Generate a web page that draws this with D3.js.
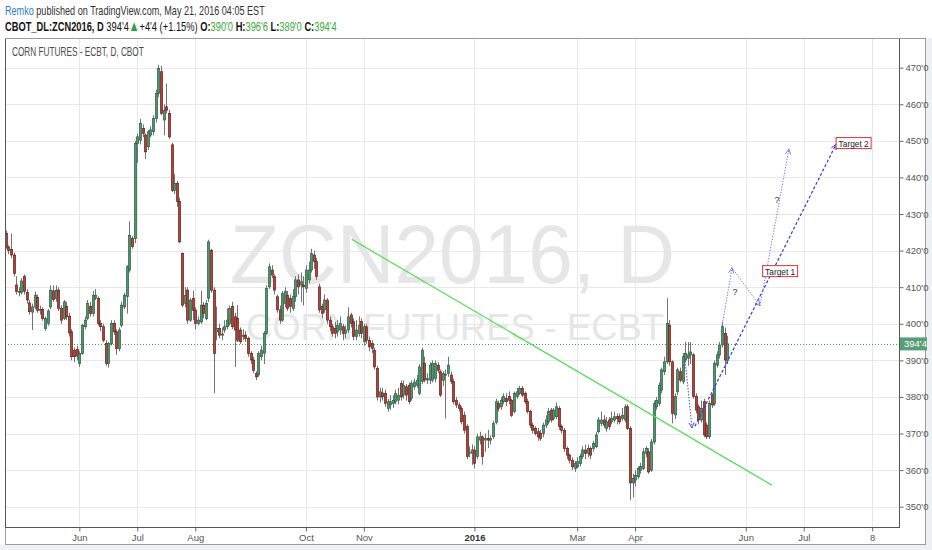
<!DOCTYPE html>
<html><head><meta charset="utf-8">
<script src="https://cdn.jsdelivr.net/npm/d3@7"></script>
<style>
body{margin:0;background:#fff;}
svg{display:block;}
</style>
</head><body>
<svg id="c" width="932" height="550"></svg>
<script>
// ---------- DATA (daily bars, 21 Apr 2015 .. 20 May 2016; index = trading day) ----------
const open = [
424.7,421.0,420.3,418.8,410.6,408.5,408.6,412.9,408.6,405.7,
403.2,404.6,407.2,403.7,403.9,398.7,400.1,404.6,409.0,406.9,
409.2,404.2,401.4,404.8,402.1,397.8,392.8,393.0,389.1,391.9,
399.2,401.4,404.8,402.8,407.0,406.9,400.1,399.2,394.6,389.1,
394.6,400.1,397.8,393.2,399.6,404.6,407.5,414.7,423.3,423.3,
449.3,450.2,453.4,451.6,448.4,451.6,452.5,456.1,463.0,468.9,
455.7,459.3,457.5,448.9,436.5,438.4,433.4,419.2,405.6,409.2,
401.0,406.9,403.7,400.1,400.5,405.1,401.4,407.0,420.1,409.2,
397.8,398.7,396.9,398.3,399.2,400.1,404.7,401.9,401.5,398.3,
396.5,396.9,396.0,391.9,390.1,386.4,386.0,391.0,391.9,397.4,
410.1,414.7,412.9,407.4,403.8,401.0,405.6,407.8,406.9,404.2,
407.4,412.0,410.6,410.6,409.7,412.0,414.7,418.8,417.0,410.1,
404.7,403.8,406.5,401.0,399.2,398.7,397.8,398.3,399.2,397.4,
398.3,402.4,400.6,396.5,397.4,400.6,395.1,399.2,395.5,394.6,
392.8,387.8,380.0,381.1,381.0,376.9,377.8,378.2,378.7,379.1,
383.7,380.5,382.8,383.2,379.6,382.8,383.2,381.0,384.2,389.2,
384.6,384.6,384.6,385.0,388.7,386.9,384.5,386.0,386.4,386.0,
384.2,379.1,377.8,376.9,375.0,371.9,364.6,364.6,365.5,363.7,
368.2,369.1,368.2,368.7,368.2,369.1,373.0,378.2,377.3,378.7,
379.6,380.1,379.1,376.0,380.1,381.0,382.3,381.0,378.7,376.0,
372.3,371.4,370.5,370.0,370.0,372.3,373.2,376.4,374.1,374.6,
376.9,371.9,370.9,365.9,364.1,362.7,360.5,360.9,361.8,363.7,
365.5,364.6,365.9,365.9,366.4,370.5,372.8,373.7,371.4,373.7,
373.2,373.7,374.6,374.6,374.1,373.7,377.3,371.4,356.5,357.3,
358.2,360.0,360.5,364.6,365.0,360.0,367.7,377.3,378.2,381.9,
386.9,389.6,399.6,389.6,375.1,381.4,386.9,384.2,390.1,390.6,
391.5,391.5,380.1,377.3,373.7,378.7,372.3,369.1,380.5,378.2,
388.7,391.5,394.2,397.4,390.0
];
const high = [
425.5,421.5,424.7,419.5,413.0,410.0,412.5,413.5,409.5,406.5,
405.5,408.8,408.0,405.0,404.5,402.0,404.0,410.5,410.5,410.5,
410.0,405.0,406.5,406.0,403.0,398.5,393.5,394.0,392.5,400.0,
402.0,406.5,406.0,409.0,409.5,407.5,401.0,400.0,395.5,395.0,
401.0,401.0,398.5,399.0,406.0,408.5,416.0,428.0,424.0,450.0,
452.0,456.0,454.5,452.0,453.0,454.0,457.0,464.0,470.8,470.5,
460.0,465.7,458.5,449.5,441.0,439.0,434.5,419.5,410.0,410.0,
407.0,409.0,404.5,402.0,409.0,406.0,406.5,423.0,420.5,410.0,
404.7,400.0,399.0,401.0,404.2,405.0,406.0,403.0,405.1,399.0,
398.5,398.0,396.5,392.5,391.0,387.0,392.5,394.0,398.0,410.5,
416.5,416.0,413.5,408.0,405.0,409.0,410.0,409.0,408.0,409.5,
413.0,413.5,414.0,413.0,416.0,417.0,420.5,420.0,418.0,411.0,
405.5,408.0,407.0,402.0,400.0,400.5,401.0,402.0,400.0,399.5,
404.5,403.0,401.5,401.0,402.0,401.5,400.0,400.0,396.5,395.5,
393.5,388.5,382.5,382.5,382.0,379.5,380.5,380.5,382.0,382.5,
384.5,384.5,383.5,384.0,384.5,385.0,386.0,389.0,393.5,391.0,
386.5,389.5,390.0,390.0,389.5,387.5,387.0,387.5,391.0,387.0,
385.0,380.0,378.5,377.5,376.0,372.5,366.5,367.0,366.5,370.0,
370.5,369.5,370.0,371.0,369.5,373.5,379.5,379.0,380.0,381.0,
381.0,381.5,379.5,381.5,382.5,383.0,383.0,381.5,379.5,376.5,
373.0,372.0,371.5,371.0,373.0,375.0,377.0,377.0,377.0,378.5,
377.5,372.5,371.5,366.5,364.5,363.5,362.5,363.5,364.5,366.5,
367.0,367.0,366.5,368.0,370.5,374.5,376.0,375.0,374.5,374.5,
376.0,376.0,375.5,375.5,377.0,378.0,378.0,372.0,359.0,360.0,
361.0,362.0,366.0,366.5,366.0,368.5,379.0,380.0,384.0,388.0,
391.0,407.0,401.0,390.0,381.0,388.0,388.0,392.0,395.1,395.0,
395.0,392.0,381.0,378.0,379.0,379.5,373.0,379.0,381.0,390.0,
392.5,395.0,400.6,399.0,396.75
];
const low = [
420.5,419.0,418.0,413.0,408.0,407.5,408.0,408.0,405.5,402.5,
398.3,404.0,403.0,402.5,400.8,398.0,399.5,404.0,406.0,406.0,
403.5,400.0,401.0,401.0,396.5,390.0,389.5,390.0,388.2,391.5,
398.5,401.0,402.0,402.0,406.5,399.5,398.0,395.0,388.5,388.0,
394.0,397.0,391.5,392.5,399.0,404.0,402.8,414.0,420.5,422.0,
444.0,449.0,451.0,445.0,447.5,451.0,451.5,455.0,462.0,457.0,
451.5,457.5,450.5,436.0,435.5,432.0,422.0,404.5,404.5,400.0,
400.5,401.0,398.5,399.5,400.0,401.5,401.0,406.0,408.5,381.0,
395.5,396.0,395.5,397.5,398.5,399.5,398.5,388.2,395.0,394.5,
395.5,395.0,391.0,389.0,386.5,384.6,385.5,390.0,389.0,397.0,
409.5,412.5,408.0,403.0,400.0,400.5,404.5,403.5,403.0,403.5,
406.0,408.0,406.0,405.0,408.5,411.0,414.0,415.0,412.0,403.0,
401.5,403.0,400.0,398.0,396.5,396.0,396.5,397.0,395.5,396.0,
397.5,399.0,395.5,395.5,396.5,396.0,394.0,394.5,392.5,392.0,
387.5,379.0,378.5,379.0,377.3,376.0,376.5,377.0,378.0,378.0,
379.0,379.5,379.0,378.0,379.0,382.0,382.5,380.5,383.5,384.0,
383.5,383.5,384.0,384.0,386.5,380.0,383.0,374.1,385.5,383.5,
378.0,377.0,376.0,372.5,370.0,363.0,363.5,361.4,360.5,363.0,
367.0,361.5,365.0,366.0,367.0,368.5,372.5,376.0,376.5,378.0,
377.5,378.0,374.5,375.5,379.5,380.5,380.0,378.0,375.5,371.5,
370.0,369.5,368.0,368.0,369.0,371.5,372.5,373.0,373.5,374.0,
371.0,370.0,365.0,363.0,361.8,360.0,359.5,360.5,361.0,363.0,
363.0,363.5,363.0,365.0,366.0,370.0,372.0,371.5,370.5,371.0,
372.5,373.0,372.5,372.5,373.5,373.0,371.0,351.8,352.5,355.5,
357.5,359.0,360.0,363.5,359.0,359.5,367.0,376.5,377.5,381.0,
386.0,389.0,388.5,372.8,374.0,380.5,384.0,383.5,389.5,388.5,
389.0,379.5,375.5,372.5,373.0,369.0,368.5,368.5,377.0,377.5,
388.0,390.5,393.5,386.0,389.0
];
const close = [
421.1,420.0,418.8,413.8,408.8,408.8,411.7,408.8,406.5,403.3,
404.6,407.8,403.7,403.9,401.4,401.4,403.5,409.2,406.6,409.2,
404.2,401.0,406.0,401.9,397.5,391.0,391.0,391.2,391.9,399.6,
401.0,405.6,402.8,407.8,407.8,400.1,399.2,395.5,389.1,394.6,
400.1,397.8,393.2,398.3,405.1,407.8,415.6,424.2,421.1,449.3,
451.1,454.8,452.0,447.0,452.5,453.0,456.1,463.0,469.8,457.5,
458.4,458.4,451.1,436.5,438.4,433.4,422.4,405.1,407.8,401.0,
406.5,403.7,400.1,401.0,405.1,402.8,405.6,422.4,409.2,391.9,
398.7,396.9,397.2,399.2,401.0,404.2,399.2,398.3,395.5,395.1,
396.9,396.0,391.9,390.1,387.3,385.5,391.9,392.8,397.4,409.7,
415.6,413.3,409.2,403.8,401.0,408.3,408.8,404.2,404.7,407.4,
412.0,410.1,411.5,410.1,414.7,414.7,419.2,417.0,412.9,403.8,
402.8,406.5,401.0,399.2,397.4,397.4,399.6,400.1,397.4,398.3,
401.9,400.1,396.5,398.3,399.6,397.4,399.2,395.5,393.7,393.3,
388.2,380.0,381.4,380.0,378.2,378.7,378.7,379.1,381.0,380.5,
380.0,383.2,380.5,378.7,383.7,384.1,384.6,388.2,392.8,384.6,
385.0,388.7,389.2,389.2,387.3,380.5,386.4,386.2,388.7,384.2,
378.7,377.8,376.9,373.2,370.9,363.7,365.0,365.5,361.8,369.1,
369.1,363.7,368.7,368.2,368.7,372.8,378.7,376.9,379.1,380.1,
378.7,379.1,375.0,381.0,381.4,382.3,380.5,378.7,376.0,372.3,
370.9,370.0,369.1,368.7,372.3,373.7,376.0,373.7,376.4,377.3,
371.9,370.9,365.9,364.1,362.7,360.9,361.8,362.3,363.7,365.5,
364.6,365.9,364.1,367.3,369.6,373.7,373.7,372.3,373.2,371.9,
374.1,374.6,374.1,373.2,375.0,377.3,371.4,356.5,357.7,358.6,
360.5,361.0,365.0,365.9,359.5,367.7,378.2,379.1,383.2,387.4,
389.6,400.1,389.6,375.5,380.1,387.4,384.6,391.0,391.9,391.5,
392.3,380.1,376.4,373.7,376.9,369.6,369.1,378.2,377.8,389.2,
391.5,394.2,399.2,390.1,394.5
];

// axis ticks
const priceTicks = [350,360,370,380,390,400,410,420,430,440,450,460,470];
const timeTickIdx = [28,50,72,114,136,178,217,239,281,303,329];
const timeTickLabels = ["Jun","Jul","Aug","Oct","Nov","2016","Mar","Apr","Jun","Jul","8"];
const lastPrice = 394.5;

// drawings (bar index, price)
const trendLine = [[131.4,423.1],[290.9,355.9]];
const dottedDown = [[257.9,390.6],[260.6,371.5]];
const dashedUp = [[261.7,372.0],[315.3,449.1]];
const dottedPath = [[271.6,397.8],[275.8,415.3],[286.4,404.9],[297.4,447.8]];
const questionMarks = [[276.9,408.7],[292.9,433.8]];
const targetLabels = ["Target 1","Target 2"];
const targetPos = [[287.4,414.4],[315.3,449.4]];

// ---------- DRAW ----------
const FONT = '"Liberation Sans",Arial,sans-serif';
const svg = d3.select("#c").style("font-family", FONT);
const P = {l:5, r:899, t:39, b:527};

const x = d3.scaleLinear().domain([0,329]).range([5.6,872.2]);
const y = d3.scaleLinear().domain([350,470]).range([506.7,67.7]);
const fmt = v => Math.floor(v) + "'" + Math.round((v-Math.floor(v))*8);

svg.append("rect").attr("width",932).attr("height",550).attr("fill","#fff");
svg.append("rect").attr("x",0).attr("y",545).attr("width",932).attr("height",5).attr("fill","#eef1f3");
svg.append("rect").attr("x",926).attr("y",38).attr("width",6).attr("height",512).attr("fill","#eef1f3");

// text fitted to a width by horizontal scaling (single text element per line)
function fitLine(x0, yb, width, size, parts){
  const g = svg.append("g");
  const t = g.append("text").attr("x",0).attr("y",0).attr("font-size",size);
  parts.forEach(p=>{
    const s = t.append("tspan").text(p.t)
      .attr("fill",p.fill||"#222").attr("font-weight",p.bold?"bold":"normal");
    if(p.size) s.attr("font-size",p.size);
  });
  const w = t.node().getComputedTextLength();
  g.attr("transform",`translate(${x0},${yb}) scale(${width/w},1)`);
  return g;
}
const GREENV = "#38a838";
fitLine(5,15,260,13,[
  {t:"Remko",fill:"#2e7bc4"},
  {t:" published on TradingView.com, May 21, 2016 04:05 EST",fill:"#333"}
]);
fitLine(5,31,332,13,[
  {t:"CBOT_DL:ZCN2016, D",bold:true,fill:"#111"},
  {t:"  394'4",fill:"#111"},
  {t:"\u25B2",fill:"#2ea043",size:15},
  {t:"+4'4 (+1.15%) ",fill:"#111"},
  {t:"O:",bold:true,fill:"#111"},{t:"390'0 ",fill:GREENV},
  {t:"H:",bold:true,fill:"#111"},{t:"396'6 ",fill:GREENV},
  {t:"L:",bold:true,fill:"#111"},{t:"389'0 ",fill:GREENV},
  {t:"C:",bold:true,fill:"#111"},{t:"394'4",fill:GREENV}
]);

// clip
svg.append("clipPath").attr("id","clip").append("rect")
  .attr("x",P.l).attr("y",P.t).attr("width",P.r-P.l).attr("height",P.b-P.t);

// grid
const grid = svg.append("g").attr("clip-path","url(#clip)");
grid.selectAll("line.h").data(priceTicks).join("line")
  .attr("x1",P.l).attr("x2",P.r)
  .attr("y1",d=>Math.round(y(d))+0.5).attr("y2",d=>Math.round(y(d))+0.5)
  .attr("stroke","#e8e8e8");
grid.selectAll("line.v").data(timeTickIdx).join("line")
  .attr("y1",P.t).attr("y2",P.b)
  .attr("x1",d=>Math.round(x(d))+0.5).attr("x2",d=>Math.round(x(d))+0.5)
  .attr("stroke","#e8e8e8");

// watermark
svg.append("text").attr("x",230).attr("y",283).text("ZCN2016, D")
  .attr("font-size",84).attr("fill","#e6e6e6")
  .attr("textLength",445).attr("lengthAdjust","spacingAndGlyphs");
svg.append("text").attr("x",246).attr("y",340).text("CORN FUTURES - ECBT")
  .attr("font-size",36).attr("fill","#e6e6e6")
  .attr("textLength",418).attr("lengthAdjust","spacingAndGlyphs");

// chart title
fitLine(12,56,132,12,[{t:"CORN FUTURES - ECBT, D, CBOT",fill:"#4a4a4a"}]);

// last price line
svg.append("line").attr("x1",P.l).attr("x2",P.r)
  .attr("y1",Math.round(y(lastPrice))+0.5).attr("y2",Math.round(y(lastPrice))+0.5)
  .attr("stroke","#3f9a74").attr("stroke-dasharray","1,2");

// candles
const bars = d3.range(open.length).map(i=>({i,o:open[i],h:high[i],l:low[i],c:close[i]}));
const cg = svg.append("g").attr("clip-path","url(#clip)");
cg.selectAll("line.w").data(bars).join("line")
  .attr("x1",d=>Math.round(x(d.i))+0.5).attr("x2",d=>Math.round(x(d.i))+0.5)
  .attr("y1",d=>y(d.h)).attr("y2",d=>y(d.l))
  .attr("stroke","#737375").attr("stroke-width",1);
cg.selectAll("rect.b").data(bars).join("rect")
  .attr("x",d=>Math.round(x(d.i))-0.7)
  .attr("width",2.4)
  .attr("y",d=>y(Math.max(d.o,d.c)))
  .attr("height",d=>Math.max(1,Math.abs(y(d.o)-y(d.c))))
  .attr("fill",d=>d.c>=d.o?"#4c9670":"#b2433a")
  .attr("stroke",d=>d.c>=d.o?"#2a563e":"#5a1e17")
  .attr("stroke-width",0.6);

// drawings
const dg = svg.append("g").attr("clip-path","url(#clip)");
const line = d3.line().x(d=>x(d[0])).y(d=>y(d[1]));
dg.append("path").attr("d",line(trendLine)).attr("stroke","#4fe04f").attr("stroke-width",1.2).attr("fill","none");
function arrow(a,b,color){
  const x1=x(a[0]),y1=y(a[1]),x2=x(b[0]),y2=y(b[1]);
  const ang=Math.atan2(y2-y1,x2-x1), L=6, s=0.45;
  const p1=[x2-L*Math.cos(ang-s),y2-L*Math.sin(ang-s)];
  const p2=[x2-L*Math.cos(ang+s),y2-L*Math.sin(ang+s)];
  dg.append("path").attr("d",`M${p1}L${x2},${y2}L${p2}`).attr("stroke",color).attr("fill","none").attr("stroke-width",1);
}
dg.append("path").attr("d",line(dottedDown)).attr("stroke","#5050e8").attr("stroke-dasharray","1.5,1.5").attr("fill","none");
arrow(dottedDown[0],dottedDown[1],"#5050e8");
dg.append("path").attr("d",line(dashedUp)).attr("stroke","#3a3ad8").attr("stroke-width",1.2).attr("stroke-dasharray","3,2").attr("fill","none");
arrow(dashedUp[0],dashedUp[1],"#3a3ad8");
dg.append("path").attr("d",line(dottedPath)).attr("stroke","#6a6af0").attr("stroke-dasharray","1.2,1.6").attr("fill","none");
for(let k=1;k<dottedPath.length;k++) arrow(dottedPath[k-1],dottedPath[k],"#7a7af2");
questionMarks.forEach(q=>{
  dg.append("text").attr("x",x(q[0])).attr("y",y(q[1])+3).attr("text-anchor","middle")
    .attr("font-size",9).attr("fill","#333").text("?");
});
targetLabels.forEach((t,k)=>{
  const px=x(targetPos[k][0]), py=y(targetPos[k][1]);
  const g=dg.append("g");
  g.append("rect").attr("x",px).attr("y",py-5.5).attr("width",35).attr("height",11)
    .attr("fill","#fff").attr("stroke","#e03535").attr("stroke-width",1);
  g.append("text").attr("x",px+2.5).attr("y",py+3.5)
    .attr("font-size",9.5).attr("fill","#222").text(t)
    .attr("textLength",30).attr("lengthAdjust","spacingAndGlyphs");
});

// frame
svg.append("rect").attr("x",5.5).attr("y",38.5).attr("width",920).attr("height",506)
  .attr("fill","none").attr("stroke","#9a9a9a");
svg.append("line").attr("x1",P.l+0.5).attr("x2",P.l+0.5).attr("y1",P.t).attr("y2",P.b+1).attr("stroke","#555");
svg.append("line").attr("x1",P.r+0.5).attr("x2",P.r+0.5).attr("y1",P.t).attr("y2",P.b+1).attr("stroke","#555");
svg.append("line").attr("x1",P.l).attr("x2",P.r+1).attr("y1",P.b+0.5).attr("y2",P.b+0.5).attr("stroke","#555");

// axes
const yAxis = d3.axisRight(y).tickValues(priceTicks).tickFormat(fmt).tickSize(4).tickPadding(2);
const ya = svg.append("g").attr("transform",`translate(${P.r+0.5},0)`).call(yAxis);
ya.select(".domain").remove();
ya.selectAll("line").attr("stroke","#666");
ya.selectAll("text").attr("font-size",9.5).attr("fill","#555").attr("font-family",FONT);

const xAxis = d3.axisBottom(x).tickValues(timeTickIdx).tickFormat((d,i)=>timeTickLabels[i]).tickSize(4).tickPadding(3);
const xa = svg.append("g").attr("transform",`translate(0,${P.b+0.5})`).call(xAxis);
xa.select(".domain").remove();
xa.selectAll("line").attr("stroke","#666");
xa.selectAll("text").attr("font-size",9.5).attr("font-family",FONT)
  .attr("font-weight",(d,i)=>timeTickLabels[i]==="2016"?"bold":"normal")
  .attr("fill",(d,i)=>timeTickLabels[i]==="2016"?"#333":"#555");

// last price badge
const ly = y(lastPrice);
svg.append("rect").attr("x",P.r+1).attr("y",ly-6.5).attr("width",27).attr("height",13).attr("fill","#5a9e78");
svg.append("text").attr("x",P.r+5).attr("y",ly+3.5).attr("font-size",9.5).attr("fill","#fff").text(fmt(lastPrice));
</script>
</body></html>
